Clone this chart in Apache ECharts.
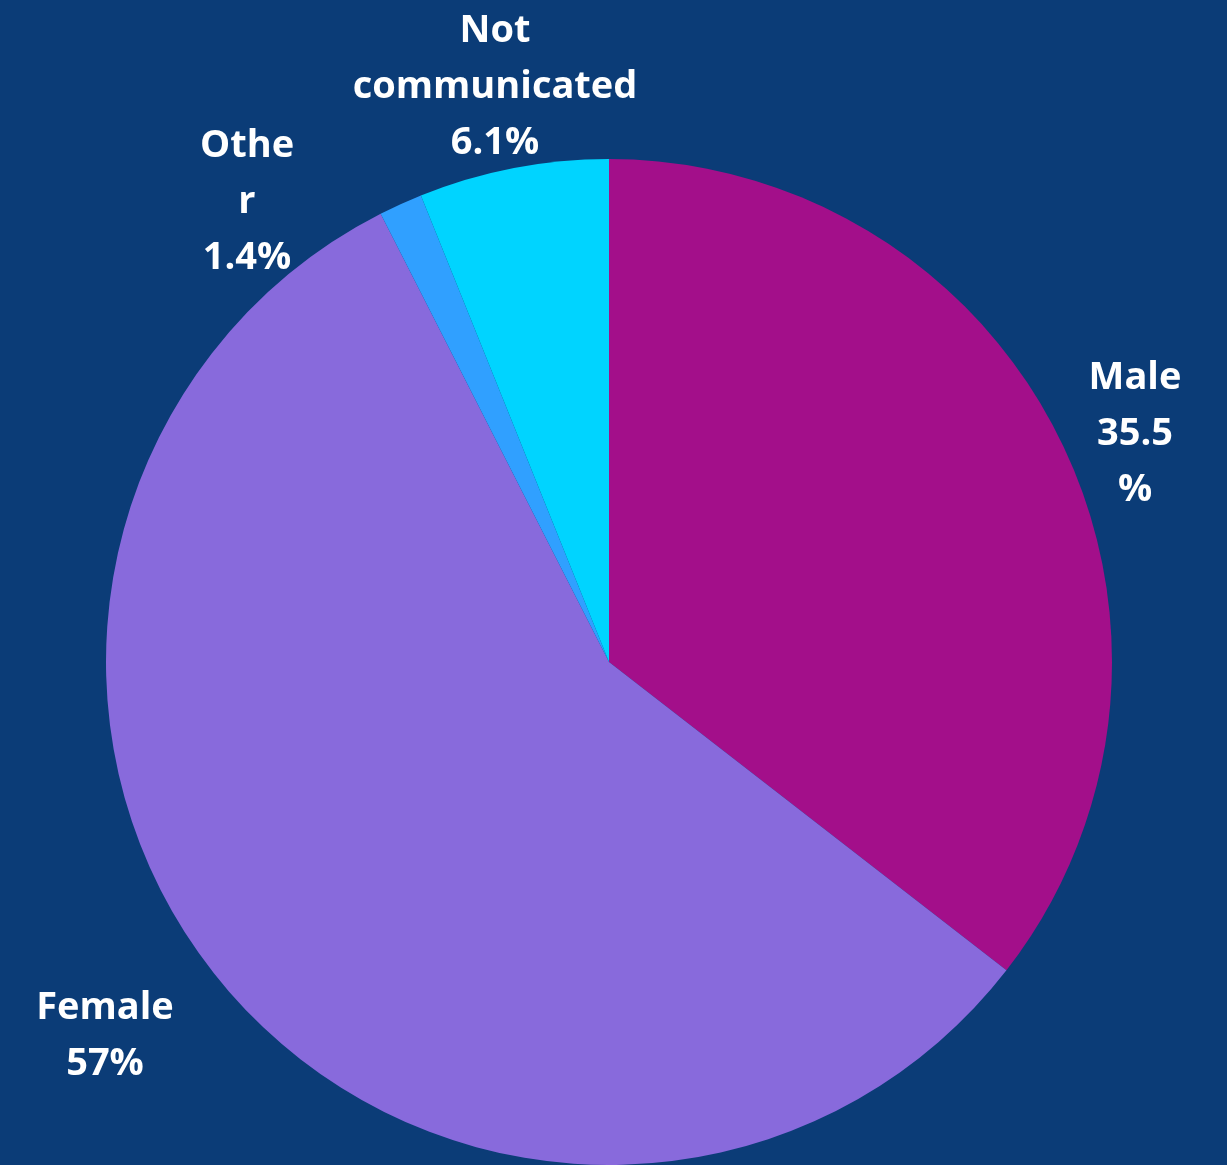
<!DOCTYPE html>
<html>
<head>
<meta charset="utf-8">
<script src="https://cdn.jsdelivr.net/npm/echarts@6/dist/echarts.min.js"></script>
<style>
html,body{margin:0;padding:0;background:#0B3C77;}
#chart{width:1227px;height:1165px;}
</style>
</head>
<body>
<div id="chart"></div>
<script>
var categories = ['Male', 'Female', 'Other', 'Not communicated'];
var values = [35.5, 57, 1.4, 6.1];
var valueLabels = ['35.5\n%', '57%', '1.4%', '6.1%'];
var nameLabels = ['Male', 'Female', 'Othe\nr', 'Not\ncommunicated'];
var colors = ['#A30F8A', '#886ADC', '#30A0FF', '#00D4FF'];
var labelPos = [[1135, 434], [105, 1036], [247, 202], [495, 87]];

var chart = echarts.init(document.getElementById('chart'));
chart.setOption({
  backgroundColor: '#0B3C77',
  animation: false,
  series: [{
    type: 'pie',
    center: [609, 662],
    radius: [0, 503],
    startAngle: 90,
    clockwise: true,
    label: {
      show: true,
      position: 'outside',
      color: '#ffffff',
      fontFamily: 'Open Sans',
      fontWeight: 'bold',
      fontSize: 38,
      lineHeight: 56,
      align: 'center',
      formatter: function (p) {
        return nameLabels[p.dataIndex] + '\n' + valueLabels[p.dataIndex];
      }
    },
    labelLine: { show: false },
    labelLayout: function (p) {
      var pos = labelPos[p.dataIndex];
      return { x: pos[0], y: pos[1], align: 'center', verticalAlign: 'middle', hideOverlap: false };
    },
    itemStyle: { borderWidth: 0 },
    emphasis: { disabled: true },
    data: categories.map(function (c, i) {
      return { name: c, value: values[i], itemStyle: { color: colors[i] } };
    })
  }]
});
</script>
</body>
</html>
